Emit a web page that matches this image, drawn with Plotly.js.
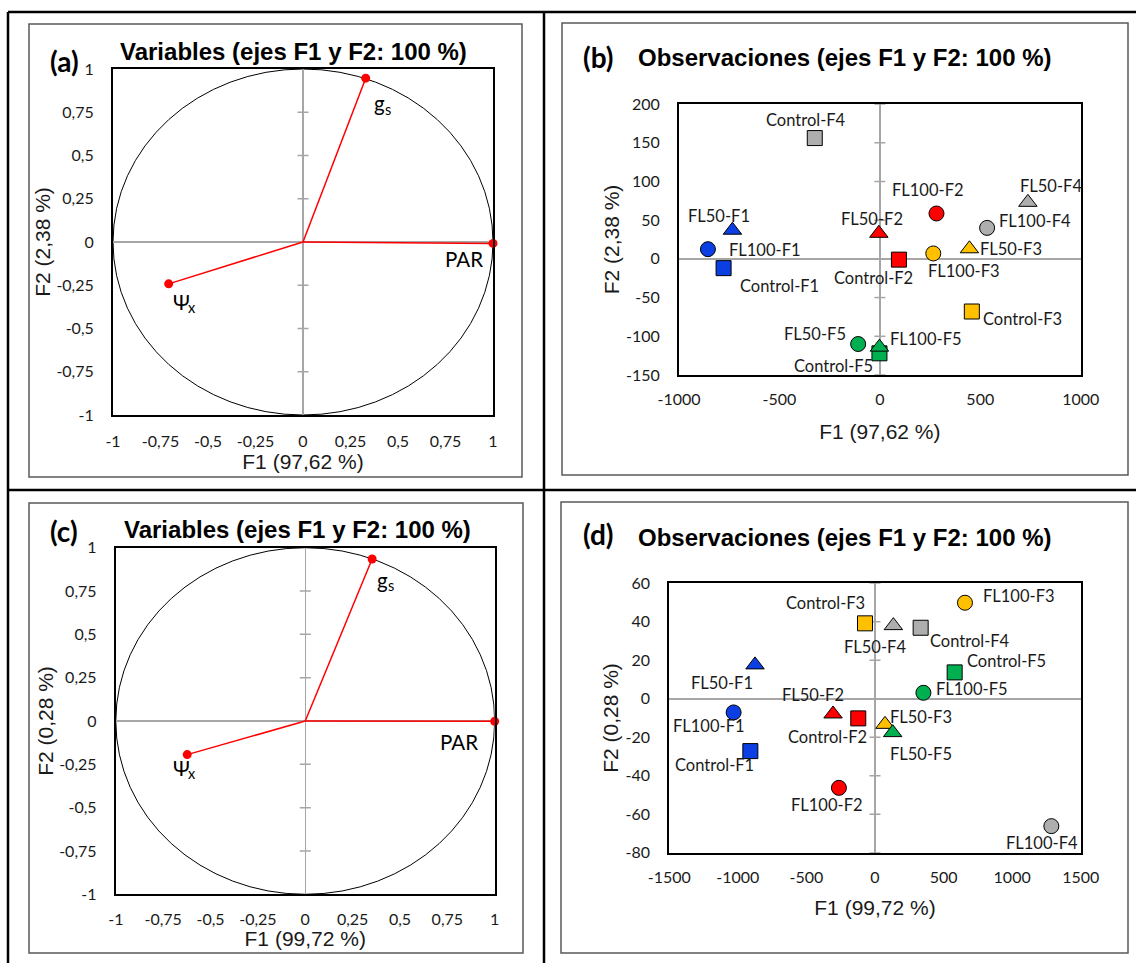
<!DOCTYPE html>
<html><head><meta charset="utf-8">
<script src="https://cdn.plot.ly/plotly-3.0.1.min.js"></script>
<style>html,body{margin:0;padding:0;background:#fff}#chart{width:1136px;height:963px}</style>
</head><body><div id="chart"></div>
<script>
// ================= DATA =================
// Correlation circles (variables): main symbol + subscript
const varMain = ['g', 'PAR', 'Ψ'];
const varSub = ['s', '', 'x'];
const a_F1 = [0.33, 1.0, -0.707];
const a_F2 = [0.947, -0.008, -0.242];
const c_F1 = [0.353, 1.0, -0.623];
const c_F2 = [0.935, -0.002, -0.194];

// Observations: groups F1..F5 for each treatment
const groups = ['F1', 'F2', 'F3', 'F4', 'F5'];
const treatments = ['Control', 'FL50', 'FL100'];

// Panel (b)
const b_Control_x = [-778, 95, 458, -324, -2];
const b_Control_y = [-12, -1, -68, 156, -122];
const b_FL50_x = [-734, -5, 446, 737, -2];
const b_FL50_y = [37, 33, 13, 73, -114];
const b_FL100_x = [-856, 282, 266, 534, -108];
const b_FL100_y = [12.5, 58.6, 7, 40, -110];

// Panel (d)
const d_Control_x = [-909, -122, -73, 333, 581];
const d_Control_y = [-27.2, -10.2, 39.2, 36.9, 13.7];
const d_FL50_x = [-875, -306, 73, 134, 129];
const d_FL50_y = [17.6, -7.9, -13.3, 38, -17.6];
const d_FL100_x = [-1031, -263, 656, 1286, 353];
const d_FL100_y = [-7.1, -46.3, 49.9, -66.2, 3.1];

// Tick values / labels
const corrTicks = [-1, -0.75, -0.5, -0.25, 0, 0.25, 0.5, 0.75, 1];
const corrTickText = ['-1', '-0,75', '-0,5', '-0,25', '0', '0,25', '0,5', '0,75', '1'];
const bXTicks = [-1000, -500, 0, 500, 1000];
const bXTickText = ['-1000', '-500', '0', '500', '1000'];
const bYTicks = [-150, -100, -50, 0, 50, 100, 150, 200];
const bYTickText = ['-150', '-100', '-50', '0', '50', '100', '150', '200'];
const dXTicks = [-1500, -1000, -500, 0, 500, 1000, 1500];
const dXTickText = ['-1500', '-1000', '-500', '0', '500', '1000', '1500'];
const dYTicks = [-80, -60, -40, -20, 0, 20, 40, 60];
const dYTickText = ['-80', '-60', '-40', '-20', '0', '20', '40', '60'];

// Texts
const titleVar = 'Variables (ejes F1 y F2: 100 %)';
const titleObs = 'Observaciones (ejes F1 y F2: 100 %)';
const xTitleAB = 'F1 (97,62 %)';
const yTitleAB = 'F2 (2,38 %)';
const xTitleCD = 'F1 (99,72 %)';
const yTitleCD = 'F2 (0,28 %)';

// ================= STYLE =================
const groupColors = { F1: '#0B3FE3', F2: '#FF0000', F3: '#FFC000', F4: '#AEAEAE', F5: '#00B050' };
const treatSymbols = { Control: 'square', FL50: 'triangle-up', FL100: 'circle' };
const treatSizes = { Control: 15, FL50: 16, FL100: 15 };

// label placement (xanchor, xshift px, yshift px)
const varLabelPosA = [['left', 6, -25], ['right', -8, -16], ['left', 2, -18]];
const varLabelPosC = [['left', 3, -21], ['right', -15, -21], ['left', -16, -13]];
const varMainWidth = [11, 0, 15];
const labelPosB = {
  'Control-F1': ['left', 14, -18], 'FL50-F1': ['center', -13, 14], 'FL100-F1': ['left', 19, -1],
  'Control-F2': ['center', -25, -18], 'FL50-F2': ['center', -7, 14], 'FL100-F2': ['center', -8, 23],
  'Control-F3': ['left', 9, -7], 'FL50-F3': ['left', 9, 0], 'FL100-F3': ['center', 31, -18],
  'Control-F4': ['center', -9, 18], 'FL50-F4': ['center', 23, 16], 'FL100-F4': ['left', 10, 7],
  'Control-F5': ['right', -4, -13], 'FL50-F5': ['right', -31, 13], 'FL100-F5': ['left', 30, 5]
};
const labelPosD = {
  'Control-F1': ['center', -36, -14], 'FL50-F1': ['center', -33, -18], 'FL100-F1': ['center', -25, -14],
  'Control-F2': ['center', -31, -19], 'FL50-F2': ['center', -20, 19], 'FL100-F2': ['center', -12, -17],
  'Control-F3': ['right', 2, 20], 'FL50-F3': ['left', 3, 7], 'FL100-F3': ['left', 16, 7],
  'Control-F4': ['left', 7, -13], 'FL50-F4': ['center', -18, -21], 'FL100-F4': ['center', -9, -17],
  'Control-F5': ['left', 10, 11], 'FL50-F5': ['center', 28, -21], 'FL100-F5': ['left', 11, 4]
};

const W = 1136, H = 963;
const px = x => x / W;
const py = y => 1 - y / H;

const SANS = 'Liberation Sans, Arial, sans-serif';
const CAL = 'Lato, Carlito, Calibri, sans-serif';
const TXT = '#1a1a1a';

// ================= TRACES =================
const traces = [];
function vectorTraces(xa, ya, f1, f2) {
  const lx = [], ly = [];
  f1.forEach((v, i) => { lx.push(0, v, null); ly.push(0, f2[i], null); });
  traces.push({ type: 'scatter', mode: 'lines', x: lx, y: ly, xaxis: xa, yaxis: ya,
    line: { color: '#FF0000', width: 1.5 }, hoverinfo: 'skip', showlegend: false });
  traces.push({ type: 'scatter', mode: 'markers', x: f1, y: f2, xaxis: xa, yaxis: ya,
    marker: { color: '#FF0000', size: 9 }, cliponaxis: false, showlegend: false });
}
vectorTraces('x', 'y', a_F1, a_F2);
vectorTraces('x3', 'y3', c_F1, c_F2);

const obsB = { Control: [b_Control_x, b_Control_y], FL50: [b_FL50_x, b_FL50_y], FL100: [b_FL100_x, b_FL100_y] };
const obsD = { Control: [d_Control_x, d_Control_y], FL50: [d_FL50_x, d_FL50_y], FL100: [d_FL100_x, d_FL100_y] };
function obsTraces(xa, ya, obs) {
  ['Control', 'FL100', 'FL50'].forEach(t => {
    traces.push({ type: 'scatter', mode: 'markers', name: t, x: obs[t][0], y: obs[t][1], xaxis: xa, yaxis: ya,
      cliponaxis: false, showlegend: false,
      marker: { symbol: treatSymbols[t], size: treatSizes[t], color: groups.map(g => groupColors[g]),
        line: { color: '#000', width: 1 } } });
  });
}
obsTraces('x2', 'y2', obsB);
obsTraces('x4', 'y4', obsD);

// ================= LAYOUT =================
const axFont = { family: SANS, size: 21, color: TXT };
function axis(domPx, range, tv, tt, isX, standoff, title, tStand) {
  const dom = isX ? [px(domPx[0]), px(domPx[1])] : [py(domPx[1]), py(domPx[0])];
  return {
    domain: dom, range: range, autorange: false, fixedrange: true, automargin: true,
    tickvals: tv, ticktext: tt, ticks: '', ticklabelstandoff: standoff,
    tickfont: { family: CAL, size: 16, color: TXT },
    showgrid: false, zeroline: true, zerolinecolor: '#A6A6A6', zerolinewidth: 1.5,
    showline: true, linecolor: '#000', linewidth: 2, mirror: true,
    title: { text: title, font: axFont, standoff: tStand }
  };
}

const layout = {
  width: W, height: H, margin: { l: 0, r: 0, t: 0, b: 0, autoexpand: false },
  paper_bgcolor: '#fff', plot_bgcolor: '#fff', showlegend: false,
  xaxis: Object.assign(axis([113, 493], [-1, 1], corrTicks, corrTickText, true, 11, xTitleAB, 3), { anchor: 'y' }),
  yaxis: Object.assign(axis([69, 415], [-1, 1], corrTicks, corrTickText, false, 14, yTitleAB, 0), { anchor: 'x' }),
  xaxis2: Object.assign(axis([679, 1080.7], [-1000, 1000], bXTicks, bXTickText, true, 9, xTitleAB, 17), { anchor: 'y2' }),
  yaxis2: Object.assign(axis([104, 375], [-150, 200], bYTicks, bYTickText, false, 14, yTitleAB, 1), { anchor: 'x2' }),
  xaxis3: Object.assign(axis([115.8, 494.7], [-1, 1], corrTicks, corrTickText, true, 9, xTitleCD, 3), { anchor: 'y3' }),
  yaxis3: Object.assign(axis([547.7, 894.3], [-1, 1], corrTicks, corrTickText, false, 14, yTitleCD, 0), { anchor: 'x3' }),
  xaxis4: Object.assign(axis([669.3, 1080.7], [-1500, 1500], dXTicks, dXTickText, true, 9, xTitleCD, 15), { anchor: 'y4' }),
  yaxis4: Object.assign(axis([583.3, 852.7], [-80, 60], dYTicks, dYTickText, false, 14, yTitleCD, 1), { anchor: 'x4' }),
  shapes: [], annotations: []
};

// Outer table lines
const black = { color: '#000', width: 2.5 };
[[8, 12, 1136, 12], [8, 12, 8, 963], [544, 12, 544, 963], [8, 490, 1136, 490]].forEach(s => {
  layout.shapes.push({ type: 'line', xref: 'paper', yref: 'paper', x0: px(s[0]), y0: py(s[1]), x1: px(s[2]), y1: py(s[3]), line: black, layer: 'above' });
});
// Chart area boxes
[[29, 24, 522, 477], [562, 23, 1128, 475], [29, 503, 523, 953], [561, 502, 1128, 953]].forEach(b => {
  layout.shapes.push({ type: 'rect', xref: 'paper', yref: 'paper', x0: px(b[0]), y0: py(b[3]), x1: px(b[2]), y1: py(b[1]),
    line: { color: '#595959', width: 1.5 }, layer: 'below' });
});
// Unit circles
[['x', 'y'], ['x3', 'y3']].forEach(([xa, ya]) => {
  layout.shapes.push({ type: 'circle', xref: xa, yref: ya, x0: -1, y0: -1, x1: 1, y1: 1, line: { color: '#000', width: 1 }, layer: 'below' });
});
// Cross tick marks on the vertical zero line
function crossTicks(xa, ya, vals) {
  vals.forEach(v => {
    if (v === 0) return;
    layout.shapes.push({ type: 'line', xref: xa, yref: ya, xsizemode: 'pixel', xanchor: 0, x0: -5.5, x1: 5.5,
      y0: v, y1: v, line: { color: '#A6A6A6', width: 1.5 }, layer: 'below' });
  });
}
crossTicks('x', 'y', corrTicks.slice(1, -1));
crossTicks('x3', 'y3', corrTicks.slice(1, -1));
crossTicks('x2', 'y2', bYTicks);
crossTicks('x4', 'y4', dYTicks);

// Panel titles (paper coords)
function ann(text, x, y, font, extra) {
  layout.annotations.push(Object.assign({ text: text, xref: 'paper', yref: 'paper', x: px(x), y: py(y),
    xanchor: 'center', yanchor: 'middle', showarrow: false, font: font }, extra || {}));
}
const tFont = { family: SANS, size: 24, color: '#000', weight: 'bold' };
const pFont = { family: CAL, size: 28, color: '#000', weight: 'bold' };
ann('(a)', 64, 61, pFont); ann(titleVar, 293, 52, tFont);
ann('(b)', 598, 57, pFont); ann(titleObs, 845, 58, tFont);
ann('(c)', 63.5, 531, pFont); ann(titleVar, 297, 529, tFont);
ann('(d)', 598, 534, pFont); ann(titleObs, 845, 537, tFont);

// Variable labels (symbol + subscript)
function varLabelAnn(xa, ya, f1, f2, pos) {
  varMain.forEach((t, i) => {
    const p = pos[i];
    layout.annotations.push({ text: t, xref: xa, yref: ya, x: f1[i], y: f2[i], showarrow: false,
      xanchor: p[0], yanchor: 'middle', xshift: p[1], yshift: p[2],
      font: { family: CAL, size: 20.5, color: '#000' } });
    if (varSub[i]) {
      layout.annotations.push({ text: varSub[i], xref: xa, yref: ya, x: f1[i], y: f2[i], showarrow: false,
        xanchor: 'left', yanchor: 'middle', xshift: p[1] + varMainWidth[i], yshift: p[2] - 6,
        font: { family: CAL, size: 14.5, color: '#000' } });
    }
  });
}
varLabelAnn('x', 'y', a_F1, a_F2, varLabelPosA);
varLabelAnn('x3', 'y3', c_F1, c_F2, varLabelPosC);

// Observation labels
function obsLabelAnn(xa, ya, obs, pos) {
  treatments.forEach(t => {
    groups.forEach((g, i) => {
      const name = t + '-' + g;
      const p = pos[name];
      layout.annotations.push({ text: name, xref: xa, yref: ya, x: obs[t][0][i], y: obs[t][1][i], showarrow: false,
        xanchor: p[0], yanchor: 'middle', xshift: p[1], yshift: p[2],
        font: { family: CAL, size: 16.5, color: TXT } });
    });
  });
}
obsLabelAnn('x2', 'y2', obsB, labelPosB);
obsLabelAnn('x4', 'y4', obsD, labelPosD);

Plotly.newPlot('chart', traces, layout, { displayModeBar: false, staticPlot: true });
</script></body></html>
